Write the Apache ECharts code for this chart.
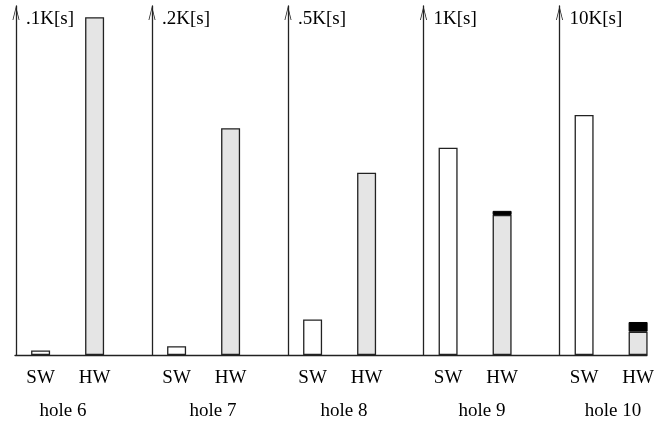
<!DOCTYPE html>
<html>
<head>
<meta charset="utf-8">
<script src="https://cdn.jsdelivr.net/npm/echarts@6/dist/echarts.min.js"></script>
<style>
  html, body { margin: 0; padding: 0; background: #fff; }
  #main { width: 667px; height: 421px; }
</style>
</head>
<body>
<div id="main"></div>
<script>
  // data
  const holes = ['hole 6', 'hole 7', 'hole 8', 'hole 9', 'hole 10'];
  const kinds = ['SW', 'HW'];
  const scaleLabels = ['.1K[s]', '.2K[s]', '.5K[s]', '1K[s]', '10K[s]'];
  const scaleMax = [100, 200, 500, 1000, 10000]; // seconds at the arrow tip
  const swTime = [1.3, 5, 51, 594, 6877];
  const hwTime = [96.8, 130, 261, 401, 668];
  const hwExtra = [0, 0, 0, 12, 278]; // black part on top of HW

  // layout
  const axisX = [16, 152, 288, 423.5, 559.5];
  const holeX = [63, 213, 344, 482, 613];
  const shift = 2.4; // grid starts a bit left of the axis line
  const gridTop = 6, gridBottom = 66;
  const font = 'Liberation Serif';
  const ink = '#222';

  var grid = [], xAxis = [], yAxis = [], series = [], title = [];

  holes.forEach(function (h, i) {
    grid.push({ left: axisX[i] - shift, width: 108, top: gridTop, bottom: gridBottom });
    xAxis.push({
      type: 'category', gridIndex: i, data: kinds,
      axisLine: { show: false }, axisTick: { show: false },
      axisLabel: { color: '#000', fontFamily: font, fontSize: 19, margin: 14 }
    });
    yAxis.push({
      type: 'value', gridIndex: i, min: 0, max: scaleMax[i], offset: -shift,
      name: scaleLabels[i], nameLocation: 'end', nameGap: -13,
      nameTextStyle: { color: '#000', fontFamily: font, fontSize: 19, align: 'left', verticalAlign: 'middle', padding: [0, 0, 0, 10] },
      axisLine: {
        show: true, lineStyle: { color: ink, width: 1.3 },
        symbol: ['none', 'path://M0,14 L3.5,0 L7,14 L6.2,14 L3.5,3 L0.8,14 Z'],
        symbolSize: [7, 14], symbolOffset: [0, -7]
      },
      axisTick: { show: false }, axisLabel: { show: false }, splitLine: { show: false }
    });
    series.push({
      type: 'bar', xAxisIndex: i, yAxisIndex: i, stack: 'p' + i, barWidth: 19,
      data: [
        { value: swTime[i], itemStyle: { color: '#fff' } },
        { value: hwTime[i], itemStyle: { color: '#e5e5e5' } }
      ],
      itemStyle: { borderColor: ink, borderWidth: 1.3 }
    });
    series.push({
      type: 'bar', xAxisIndex: i, yAxisIndex: i, stack: 'p' + i, barWidth: 19,
      data: ['-', hwExtra[i] > 0 ? hwExtra[i] : '-'],
      itemStyle: { color: '#000', borderColor: '#000', borderWidth: 1 }
    });
    title.push({
      text: h, left: holeX[i], top: 402, textAlign: 'center', padding: 0,
      textStyle: { color: '#000', fontFamily: font, fontSize: 19, fontWeight: 'normal' }
    });
  });

  // continuous baseline under all panels
  grid.push({ left: 15, right: 20, top: gridTop, bottom: gridBottom });
  xAxis.push({
    type: 'value', gridIndex: 5, min: 0, max: 1,
    axisLine: { show: true, onZero: false, lineStyle: { color: ink, width: 1.3 } },
    axisTick: { show: false }, axisLabel: { show: false }, splitLine: { show: false }
  });
  yAxis.push({ type: 'value', gridIndex: 5, show: false });

  var chart = echarts.init(document.getElementById('main'), null, { renderer: 'canvas' });
  chart.setOption({
    animation: false,
    title: title,
    grid: grid,
    xAxis: xAxis,
    yAxis: yAxis,
    series: series
  });
</script>
</body>
</html>
